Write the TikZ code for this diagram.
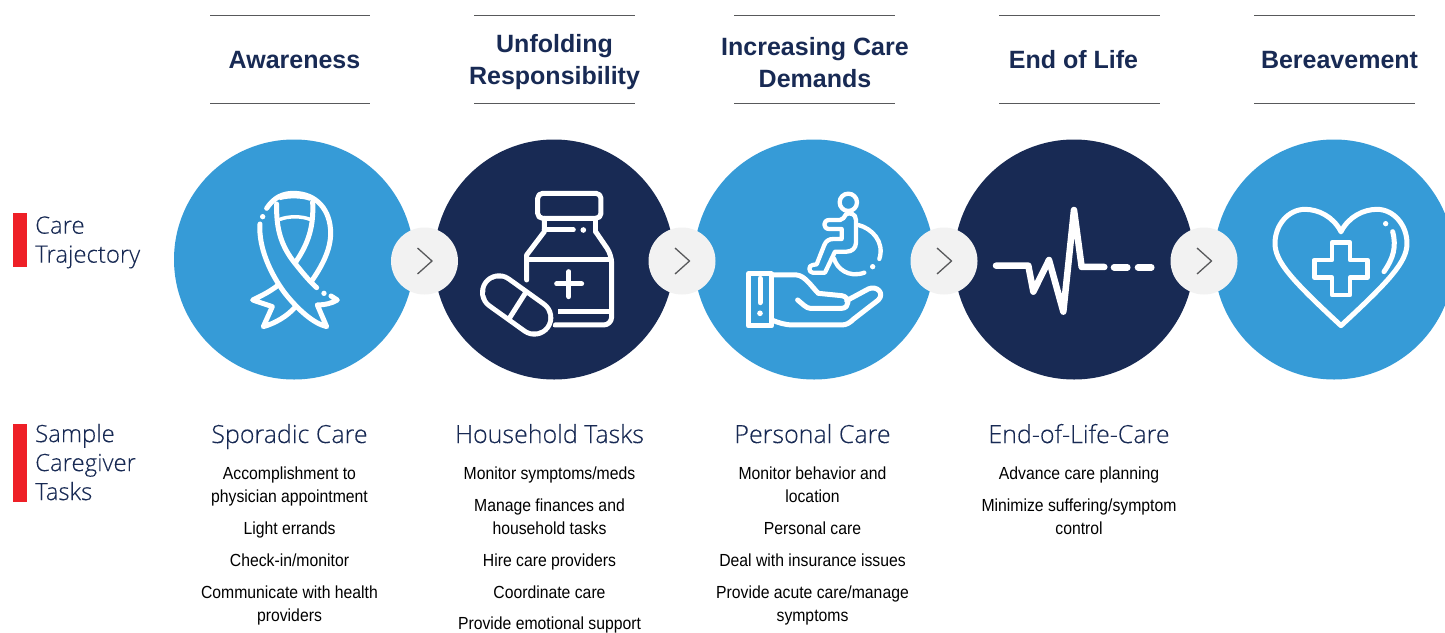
\documentclass[tikz,border=0pt]{standalone}
\usepackage{fontspec}
\setmainfont{Liberation Sans}
\newfontfamily\bodyf[FakeStretch=0.9]{Liberation Sans}
\newfontfamily\lightf[FakeBold=0.12]{Open Sans Light}
\definecolor{bluec}{HTML}{369BD7}
\definecolor{navyc}{HTML}{182A54}
\definecolor{redc}{HTML}{EE2027}
\definecolor{greyc}{HTML}{F2F2F2}
\definecolor{chevc}{HTML}{58595B}
\definecolor{rulec}{HTML}{58595B}
\newcommand{\topstrut}[1]{\rule{0pt}{#1pt}}
\newcommand{\botstrut}[1]{\rule[-#1pt]{0pt}{#1pt}}
\tikzset{
  bigcirc/.style={circle,minimum size=240pt,inner sep=0pt,draw=none},
  smallcirc/.style={circle,minimum size=67pt,inner sep=0pt,fill=greyc},
  chev/.style={draw=chevc,line width=1.3pt},
  headrule/.style={draw=rulec,line width=0.9pt},
  head/.style={font=\fontsize{25}{32}\selectfont\bfseries,text=navyc,align=center,inner sep=0pt,
    execute at begin node=\topstrut{18},execute at end node=\botstrut{6}},
  side/.style={font=\lightf\fontsize{23.9}{29}\selectfont,text=navyc,align=left,anchor=west,inner sep=0pt,
    execute at begin node=\topstrut{18},execute at end node=\botstrut{6}},
  sub/.style={font=\lightf\fontsize{25}{30}\selectfont,text=navyc,inner sep=0pt,
    execute at begin node=\topstrut{18},execute at end node=\botstrut{6}},
  item/.style={font=\bodyf\fontsize{17.5}{23}\selectfont,text=black,align=center,inner sep=0pt,
    execute at begin node=\topstrut{17},execute at end node=\botstrut{6}},
  ico/.style={draw=white,line width=5pt,line cap=round,line join=round},
}
\begin{document}
\begin{tikzpicture}[x=1pt,y=-1pt]
\useasboundingbox (0,0) rectangle (1445,632);
\clip (0,0) rectangle (1445,632);
\fill[white] (0,0) rectangle (1445,632);

% header rules and titles
\foreach \a/\b in {210/370,474/635,734/895,999/1160,1254/1415}{
  \draw[headrule] (\a,15.5) -- (\b,15.5);
  \draw[headrule] (\a,103.5) -- (\b,103.5);
}
\node[head] (h1) at (294.5,62) {Awareness};
\node[head] (h2) at (554.5,62) {Unfolding\\Responsibility};
\node[head] (h3) at (815,65) {Increasing Care\\Demands};
\node[head] (h4) at (1073.5,62) {End of Life};
\node[head] (h5) at (1339.5,62) {Bereavement};

% large circles
\node[bigcirc,fill=bluec] (c1) at (294,259.5) {};
\node[bigcirc,fill=navyc] (c2) at (554,259.5) {};
\node[bigcirc,fill=bluec] (c3) at (814,259.5) {};
\node[bigcirc,fill=navyc] (c4) at (1074,259.5) {};
\node[bigcirc,fill=bluec] (c5) at (1334,259.5) {};

% small circles with chevrons
\node[smallcirc] (a1) at (424.5,261) {};
\node[smallcirc] (a2) at (682,261) {};
\node[smallcirc] (a3) at (944,261) {};
\node[smallcirc] (a4) at (1204,261) {};
\foreach \n in {a1,a2,a3,a4}{
  \draw[chev] ([shift={(-7,-13)}]\n.center) -- ++(14.5,13) -- ++(-14.5,13);
}

% ribbon
\begin{scope}[shift={(170,130)},x=0.3333pt,y=-0.3333pt]
\draw[ico] (290,235) .. controls (310,205) and (335,190) .. (370,190)
  .. controls (440,190) and (482,240) .. (482,310)
  .. controls (482,360) and (455,410) .. (425,453);
\draw[ico] (270,282) .. controls (265,350) and (300,430) .. (345,490)
  .. controls (385,540) and (430,580) .. (470,590)
  -- (442,525) .. controls (465,525) and (485,520) .. (502,510) -- (483,498);
\draw[ico] (320,222) .. controls (318,300) and (335,350) .. (375,400)
  .. controls (395,425) and (415,450) .. (440,473);
\draw[ico] (428,215) .. controls (432,290) and (415,340) .. (378,395);
\draw[ico,line width=3.5pt] (330,205) .. controls (355,198) and (395,198) .. (420,207);
\draw[ico,line width=3.5pt] (330,268) .. controls (355,258) and (395,258) .. (420,268);
\draw[ico] (325,465) .. controls (300,485) and (275,497) .. (248,510)
  -- (307,530) -- (280,590) .. controls (315,580) and (350,560) .. (375,532);
\fill[white] (278,260) circle (8);
\fill[white] (462,490) circle (8);
\end{scope}

% medicine bottle and pill
\begin{scope}[shift={(430,130)},x=0.3333pt,y=-0.3333pt]
\draw[ico,rounded corners=5pt] (323,190) rectangle (513,265);
\draw[ico] (343,265) -- (343,305) -- (290,375) -- (290,450);
\draw[ico] (497,265) -- (497,305);
\draw[ico,rounded corners=8pt] (497,305) -- (545,375) -- (545,585) -- (375,585);
\draw[ico] (343,300) -- (430,300);
\fill[white] (460,300) circle (8.5);
\draw[ico,line cap=butt] (290,388) -- (545,388);
\draw[ico,line cap=butt] (385,545) -- (545,545);
\draw[ico] (417,425) -- (417,500);
\draw[ico] (380,462) -- (455,462);
\draw[navyc,line cap=round,line width=40pt] (207,487) -- (313,563);
\draw[ico,line width=38pt] (207,487) -- (313,563);
\draw[navyc,line cap=round,line width=28pt] (207,487) -- (313,563);
\draw[ico,line cap=butt] (235,570) -- (292,480);
\end{scope}

% hand and wheelchair
\begin{scope}[shift={(690,130)},x=0.3333pt,y=-0.3333pt]
\draw[ico] (175,432) rectangle (245,588);
\draw[ico] (210,445) -- (210,518);
\fill[white] (210,550) circle (8.5);
\draw[ico] (245,435) -- (320,435) .. controls (345,437) and (365,470) .. (385,490)
  -- (455,497) .. controls (480,500) and (480,535) .. (455,535)
  -- (360,535) .. controls (350,535) and (335,520) .. (323,510);
\draw[ico] (470,512) -- (535,477) .. controls (560,465) and (585,490) .. (565,510)
  -- (490,568) .. controls (480,578) and (470,585) .. (455,585)
  -- (310,585) .. controls (285,585) and (265,578) .. (245,570);
\draw[ico,line width=4.3pt] (475,217) circle (26);
\draw[ico,line width=4.3pt] (468,253) .. controls (478,247) and (498,250) .. (498,270)
  -- (498,338) .. controls (498,355) and (485,365) .. (470,365)
  -- (435,365) -- (405,428) -- (368,428)
  .. controls (355,428) and (355,405) .. (368,405) -- (380,403) -- (403,345)
  .. controls (408,332) and (418,327) .. (430,327) -- (455,327) -- (455,297)
  -- (418,297) .. controls (398,297) and (398,270) .. (418,270) -- (450,270)
  .. controls (458,270) and (462,262) .. (468,253);
\draw[ico,line width=4.3pt] (505,285) .. controls (545,295) and (585,335) .. (568,387);
\draw[ico,line width=4.3pt] (432,385) .. controls (440,415) and (475,445) .. (523,428);
\fill[white] (548,410) circle (8);
\end{scope}

% heartbeat
\begin{scope}[shift={(950,130)},x=0.3333pt,y=-0.3333pt]
\draw[ico,line width=6.5pt] (138,407) -- (235,407) -- (250,485) -- (297,390) -- (340,545)
  -- (372,240) -- (395,411) -- (463,411);
\draw[ico,line width=6.5pt] (492,412) -- (532,412);
\draw[ico,line width=6.5pt] (564,412) -- (604,412);
\end{scope}

% heart with cross
\begin{scope}[shift={(1205,130)},x=0.3333pt,y=-0.3333pt]
\draw[ico] (408,305) .. controls (385,260) and (340,238) .. (300,238)
  .. controls (250,238) and (210,285) .. (210,340)
  .. controls (210,395) and (260,450) .. (408,587)
  .. controls (556,450) and (606,395) .. (606,340)
  .. controls (606,285) and (566,238) .. (516,238)
  .. controls (476,238) and (431,260) .. (408,305);
\draw[ico,line width=4.5pt] (381,338) -- (435,338) -- (435,390) -- (487,390) -- (487,443)
  -- (435,443) -- (435,495) -- (381,495) -- (381,443) -- (328,443) -- (328,390)
  -- (381,390) -- cycle;
\draw[ico] (563,305) .. controls (575,350) and (565,385) .. (537,425);
\fill[white] (542,281) circle (8);
\end{scope}

% left labels
\fill[redc] (13,213) rectangle (27,267);
\fill[redc] (13,424) rectangle (27,502);
\node[side] (l1) at (35,242.5) {Care\\Trajectory};
\node[side] (l2) at (35,465) {Sample\\Caregiver\\Tasks};

% column titles
\node[sub] (s1) at (289.5,436.5) {Sporadic Care};
\node[sub] (s2) at (549.5,436.5) {Household Tasks};
\node[sub] (s3) at (812.5,436.5) {Personal Care};
\node[sub] (s4) at (1079,436.5) {End-of-Life-Care};

% column 1
\node[item] (t11) at (289.5,487.5) {Accomplishment to\\physician appointment};
\node[item] (t12) at (289.5,528.5) {Light errands};
\node[item] (t13) at (289.5,560.5) {Check-in/monitor};
\node[item] (t14) at (289.5,606.5) {Communicate with health\\providers};
% column 2
\node[item] (t21) at (549.5,473.5) {Monitor symptoms/meds};
\node[item] (t22) at (549.5,519.5) {Manage finances and\\household tasks};
\node[item] (t23) at (549.5,560.5) {Hire care providers};
\node[item] (t24) at (549.5,592.5) {Coordinate care};
\node[item] (t25) at (549.5,624) {Provide emotional support};
% column 3
\node[item] (t31) at (812.5,487.5) {Monitor behavior and\\location};
\node[item] (t32) at (812.5,528.5) {Personal care};
\node[item] (t33) at (812.5,560.5) {Deal with insurance issues};
\node[item] (t34) at (812.5,606.5) {Provide acute care/manage\\symptoms};
% column 4
\node[item] (t41) at (1079,473.5) {Advance care planning};
\node[item] (t42) at (1079,519.5) {Minimize suffering/symptom\\control};
\end{tikzpicture}
\end{document}
